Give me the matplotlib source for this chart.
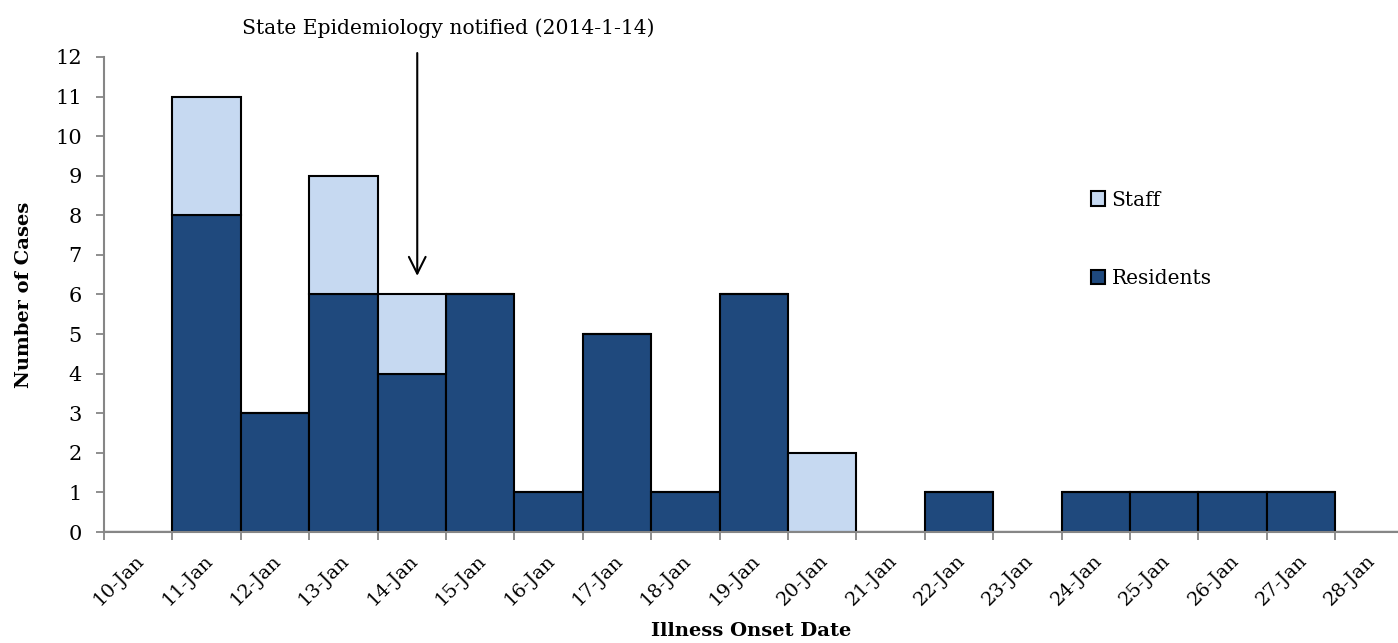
import matplotlib.pyplot as plt

dates = ["10-Jan", "11-Jan", "12-Jan", "13-Jan", "14-Jan", "15-Jan", "16-Jan",
         "17-Jan", "18-Jan", "19-Jan", "20-Jan", "21-Jan", "22-Jan", "23-Jan",
         "24-Jan", "25-Jan", "26-Jan", "27-Jan", "28-Jan"]
residents = [0, 8, 3, 6, 4, 6, 1, 5, 1, 6, 0, 0, 1, 0, 1, 1, 1, 1, 0]
staff     = [0, 3, 0, 3, 2, 0, 0, 0, 0, 0, 2, 0, 0, 0, 0, 0, 0, 0, 0]

dark = "#1F497D"
light = "#C6D9F1"
grey = "#868686"

plt.rcParams["font.family"] = ["DejaVu Serif"]

fig = plt.figure(figsize=(13.98, 6.43), dpi=100)
ax = fig.add_axes([0.0744, 0.1726, 0.9256, 0.7388])

pos = list(range(len(dates)))
ax.bar(pos, residents, width=1, align="edge", color=dark, edgecolor="black",
       linewidth=1.5, label="Residents")
ax.bar(pos, staff, width=1, align="edge", bottom=residents, color=light,
       edgecolor="black", linewidth=1.5, label="Staff")

ax.set_xlim(0, 18.92)
ax.set_ylim(0, 12)
# tick marks on the dates, labels sit a bit to the right (Excel style)
ax.set_xticks(pos, [""] * len(pos))
ax.set_xticks([p + 0.22 for p in pos], dates, minor=True, rotation=45,
              ha="center", fontsize=14)
ax.tick_params(axis="x", which="major", color=grey, length=6, width=1.3)
ax.tick_params(axis="x", which="minor", length=0, pad=14)
ax.set_yticks(range(13))
ax.tick_params(axis="y", labelsize=15, color=grey, length=6, width=1.3, pad=10)
for side in ("top", "right"):
    ax.spines[side].set_visible(False)
for side in ("left", "bottom"):
    ax.spines[side].set_color(grey)
    ax.spines[side].set_linewidth(1.5)

ax.set_xlabel("Illness Onset Date", fontsize=14, fontweight="bold", labelpad=9)
ax.set_ylabel("Number of Cases", fontsize=14, fontweight="bold", labelpad=16)

ax.annotate("", xy=(4.58, 6.4), xytext=(4.58, 12.17),
            arrowprops=dict(arrowstyle="->", color="black", lw=1.5,
                            mutation_scale=30), annotation_clip=False)
ax.text(5.03, 12.73, "State Epidemiology notified (2014-1-14)", ha="center",
        va="center", fontsize=14.6, clip_on=False)

h, l = ax.get_legend_handles_labels()
ax.legend(h[::-1], l[::-1], loc="upper left", bbox_to_anchor=(0.749, 0.757),
          frameon=False, fontsize=14.5, labelspacing=2.95, handlelength=0.7,
          handleheight=0.7, handletextpad=0.3)

fig.savefig("out.png", dpi=100)
